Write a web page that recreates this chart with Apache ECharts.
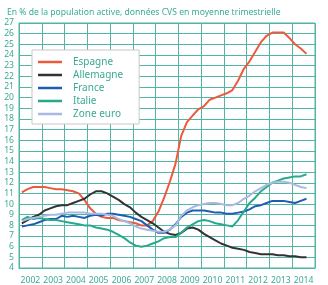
<!DOCTYPE html>
<html>
<head>
<meta charset="utf-8">
<script src="https://cdn.jsdelivr.net/npm/echarts@6/dist/echarts.min.js"></script>
<style>
  html, body { margin: 0; padding: 0; background: #fff; }
  #chart { width: 328px; height: 285px; }
</style>
</head>
<body>
<div id="chart"></div>
<script>
// year labels on the x axis
const years = ['2002','2003','2004','2005','2006','2007','2008','2009','2010','2011','2012','2013','2014'];

// quarterly unemployment rates, 2002 T1 -> 2014 T3
const espagne = [
  11.1, 11.4, 11.6, 11.6,
  11.6, 11.5, 11.4, 11.4,
  11.3, 11.2, 11.0, 10.4,
  9.6, 9.1, 8.8, 8.7,
  8.7, 8.5, 8.4, 8.3,
  8.2, 8.0, 8.0, 8.4,
  9.3, 10.6, 12.1, 13.8,
  16.4, 17.7, 18.3, 18.9,
  19.2, 19.8, 20.0, 20.2,
  20.4, 20.7, 21.6, 22.7,
  23.4, 24.3, 25.2, 25.8,
  26.1, 26.1, 26.1, 25.6,
  25.0, 24.6, 24.1
];
const allemagne = [
  8.2, 8.5, 8.8, 9.0,
  9.4, 9.6, 9.8, 9.9,
  9.9, 10.1, 10.3, 10.5,
  10.9, 11.2, 11.2, 11.0,
  10.7, 10.4, 10.0, 9.7,
  9.2, 8.8, 8.5, 8.2,
  7.8, 7.4, 7.2, 7.1,
  7.3, 7.7, 7.8, 7.6,
  7.2, 6.9, 6.6, 6.3,
  6.1, 5.9, 5.8, 5.7,
  5.5, 5.4, 5.3, 5.3,
  5.3, 5.2, 5.2, 5.1,
  5.1, 5.0, 5.0
];
const france = [
  7.9, 8.0, 8.1, 8.3,
  8.5, 8.6, 8.6, 8.9,
  8.8, 8.9, 8.8, 8.7,
  8.9, 9.0, 8.9, 9.1,
  9.1, 9.0, 8.9, 8.8,
  8.6, 8.4, 8.0, 7.6,
  7.3, 7.3, 7.6, 8.1,
  8.8, 9.2, 9.4, 9.4,
  9.4, 9.3, 9.2, 9.2,
  9.1, 9.1, 9.2, 9.3,
  9.5, 9.8, 9.9, 10.1,
  10.3, 10.3, 10.3, 10.2,
  10.1, 10.3, 10.5
];
const italie = [
  8.5, 8.8, 8.6, 8.7,
  8.6, 8.5, 8.5, 8.4,
  8.3, 8.2, 8.1, 8.0,
  8.0, 7.8, 7.7, 7.6,
  7.4, 7.1, 6.8, 6.4,
  6.1, 6.0, 6.1, 6.3,
  6.5, 6.8, 6.9, 6.9,
  7.3, 7.8, 8.1, 8.4,
  8.5, 8.4, 8.2, 8.1,
  8.0, 7.9, 8.5, 9.3,
  10.1, 10.6, 11.2, 11.6,
  12.0, 12.2, 12.4, 12.5,
  12.6, 12.6, 12.8
];
const zoneEuro = [
  8.4, 8.6, 8.7, 8.8,
  8.9, 9.0, 9.0, 9.1,
  9.2, 9.2, 9.2, 9.2,
  9.1, 9.1, 9.1, 9.0,
  8.9, 8.6, 8.4, 8.2,
  7.9, 7.7, 7.6, 7.5,
  7.4, 7.4, 7.6, 8.0,
  8.9, 9.4, 9.7, 9.9,
  10.0, 10.1, 10.1, 10.0,
  9.9, 9.9, 10.1, 10.5,
  10.8, 11.2, 11.5, 11.8,
  12.0, 12.1, 12.1, 12.0,
  11.8, 11.6, 11.5
];

const teal = '#3aaa94';
const gridColor = '#52b5a3';
const fontFam = '"Noto Sans", sans-serif';

// place each quarter in the middle of its quarter on a yearly value axis
function toPoints(values) {
  return values.map((v, i) => [2002 + (i + 0.5) / 4, v]);
}

function line(name, values, color) {
  return {
    name: name,
    type: 'line',
    xAxisIndex: 1,
    data: toPoints(values),
    symbol: 'none',
    lineStyle: { color: color, width: 2 },
    itemStyle: { color: color }
  };
}

const chart = echarts.init(document.getElementById('chart'));
chart.setOption({
  animation: false,
  backgroundColor: '#fff',
  title: {
    text: 'En % de la population active, données CVS en moyenne trimestrielle',
    left: 2,
    top: 3,
    textStyle: { color: teal, fontSize: 8.6, fontWeight: 'normal', fontFamily: fontFam }
  },
  grid: {
    left: 19, right: 13, top: 23, bottom: 15,
    show: true, borderColor: gridColor, borderWidth: 1
  },
  legend: {
    orient: 'vertical',
    left: 32,
    top: 50,
    backgroundColor: '#fff',
    borderColor: '#c8c8c8',
    borderWidth: 1,
    padding: [6, 16, 4, 6],
    icon: 'rect',
    itemWidth: 24,
    itemHeight: 2.5,
    itemGap: 1,
    textStyle: { color: teal, fontSize: 10, lineHeight: 12, fontFamily: fontFam, padding: [0, 0, 0, 6] },
    data: ['Espagne', 'Allemagne', 'France', 'Italie', 'Zone euro']
  },
  xAxis: [
    {
      type: 'category',
      data: years,
      boundaryGap: true,
      axisLine: { lineStyle: { color: gridColor } },
      axisTick: { show: false },
      axisLabel: { color: teal, fontSize: 8.6, fontFamily: fontFam, margin: 8, interval: 0 },
      splitLine: { show: true, lineStyle: { color: gridColor, width: 1 } }
    },
    {
      type: 'value',
      min: 2002,
      max: 2015,
      show: false
    }
  ],
  yAxis: {
    type: 'value',
    min: 4,
    max: 27,
    interval: 1,
    axisLine: { show: true, lineStyle: { color: gridColor } },
    axisTick: { show: false },
    axisLabel: { color: teal, fontSize: 8.6, fontFamily: fontFam, margin: 5 },
    splitLine: { show: true, lineStyle: { color: gridColor, width: 1 } }
  },
  series: [
    line('Espagne', espagne, '#ec5a3e'),
    line('Allemagne', allemagne, '#333333'),
    line('France', france, '#1f5db0'),
    line('Italie', italie, '#27a98c'),
    line('Zone euro', zoneEuro, '#a8b9e2')
  ]
});
</script>
</body>
</html>
